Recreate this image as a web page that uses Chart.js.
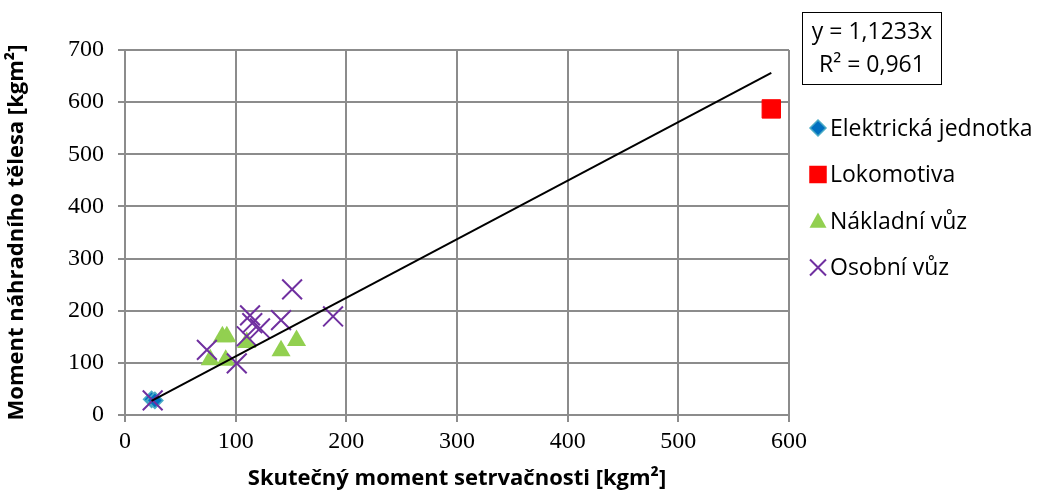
<!DOCTYPE html>
<html>
<head>
<meta charset="utf-8">
<script src="https://cdn.jsdelivr.net/npm/chart.js@4/dist/chart.umd.min.js"></script>
<style>
  html, body { margin: 0; padding: 0; background: #fff; }
  #wrap { width: 1046px; height: 492px; position: relative; }
</style>
</head>
<body>
<div id="wrap"><canvas id="momentChart"></canvas></div>
<script>
// values
const elektrX = [24, 27];
const elektrY = [30, 28];
const lokoX = [584];
const lokoY = [587];
const nakladX = [88, 92, 77, 91, 110, 141, 155];
const nakladY = [150, 150, 106, 105, 139, 123, 143];
const osobniX = [25, 74, 101, 113, 115, 122, 110, 141, 151, 188];
const osobniY = [28, 125, 99, 191, 176, 166, 151, 182, 241, 189];
const trendSlope = 1.1233;
const trendR2 = '0,961';
const trendX = [24, 584];
const xTicks = [0, 100, 200, 300, 400, 500, 600];
const yTicks = [0, 100, 200, 300, 400, 500, 600, 700];

const pts = (xs, ys) => xs.map((x, i) => ({ x: x, y: ys[i] }));

const sans = '"Open Sans", "Noto Sans", sans-serif';
const serif = '"Liberation Serif", "Times New Roman", serif';

function marker(ctx, style, x, y, s, fill, stroke) {
    ctx.save();
    ctx.beginPath();
    if (style === 'diamond') {
        ctx.moveTo(x, y - s); ctx.lineTo(x + s, y); ctx.lineTo(x, y + s); ctx.lineTo(x - s, y);
        ctx.closePath();
        ctx.fillStyle = fill; ctx.fill();
        ctx.strokeStyle = stroke; ctx.lineWidth = 1.5; ctx.stroke();
    } else if (style === 'square') {
        ctx.rect(x - s, y - s, 2 * s, 2 * s);
        ctx.fillStyle = fill; ctx.fill();
        ctx.strokeStyle = stroke; ctx.lineWidth = 1.5; ctx.stroke();
    } else if (style === 'triangle') {
        ctx.moveTo(x, y - s); ctx.lineTo(x + s, y + s * 0.8); ctx.lineTo(x - s, y + s * 0.8);
        ctx.closePath();
        ctx.fillStyle = fill; ctx.fill();
    } else {
        ctx.moveTo(x - s, y - s); ctx.lineTo(x + s, y + s);
        ctx.moveTo(x + s, y - s); ctx.lineTo(x - s, y + s);
        ctx.strokeStyle = stroke; ctx.lineWidth = 2; ctx.stroke();
    }
    ctx.restore();
}

const legendBox = {
    id: 'legendBox',
    afterDraw(chart) {
        const ctx = chart.ctx;
        const a = chart.chartArea;
        // equation box
        ctx.save();
        ctx.strokeStyle = '#000';
        ctx.lineWidth = 1;
        ctx.strokeRect(a.right + 13.5, 12.5, 139, 72);
        ctx.fillStyle = '#000';
        ctx.font = '23px ' + sans;
        ctx.textAlign = 'center';
        ctx.textBaseline = 'middle';
        const cx = a.right + 83;
        ctx.fillText('y = ' + String(trendSlope).replace('.', ',') + 'x', cx, 32);
        ctx.fillText('R² = ' + trendR2, cx, 65);
        ctx.restore();

        // series legend
        const items = chart.data.datasets.filter(d => d.legendStyle);
        items.forEach((d, i) => {
            const y = a.top + 78 + i * 46.5;
            const mx = a.right + 29;
            marker(ctx, d.legendStyle, mx, y, d.legendSize, d.backgroundColor, d.borderColor);
            ctx.save();
            ctx.fillStyle = '#000';
            ctx.font = '23px ' + sans;
            ctx.textAlign = 'left';
            ctx.textBaseline = 'middle';
            ctx.fillText(d.label, a.right + 41, y + 1);
            ctx.restore();
        });
    }
};

new Chart(document.getElementById('momentChart'), {
    type: 'scatter',
    data: {
        datasets: [
            {
                label: 'Elektrická jednotka',
                data: pts(elektrX, elektrY),
                pointStyle: 'rectRot',
                pointRadius: 8,
                backgroundColor: '#0070C0',
                borderColor: '#4BACC6',
                borderWidth: 1.5,
                legendStyle: 'diamond',
                legendSize: 8,
                order: 2
            },
            {
                label: 'Lokomotiva',
                data: pts(lokoX, lokoY),
                pointStyle: 'rect',
                pointRadius: 13,
                backgroundColor: '#FF0000',
                borderColor: '#FF0000',
                borderWidth: 1,
                legendStyle: 'square',
                legendSize: 8,
                order: 3
            },
            {
                label: 'Nákladní vůz',
                data: pts(nakladX, nakladY),
                pointStyle: 'triangle',
                pointRadius: 11,
                backgroundColor: '#92D050',
                borderColor: '#92D050',
                borderWidth: 0,
                legendStyle: 'triangle',
                legendSize: 8.5,
                order: 4
            },
            {
                label: 'Osobní vůz',
                data: pts(osobniX, osobniY),
                pointStyle: 'crossRot',
                pointRadius: 14,
                backgroundColor: '#7030A0',
                borderColor: '#7030A0',
                borderWidth: 2,
                legendStyle: 'cross',
                legendSize: 8,
                order: 1
            },
            {
                type: 'line',
                label: 'trend',
                data: trendX.map(x => ({ x: x, y: x * trendSlope })),
                borderColor: '#000',
                borderWidth: 2,
                pointRadius: 0,
                fill: false,
                order: 0
            }
        ]
    },
    options: {
        responsive: true,
        maintainAspectRatio: false,
        animation: false,
        layout: { padding: { top: 50, right: 257, left: 4, bottom: 0 } },
        plugins: {
            legend: { display: false },
            tooltip: { enabled: false }
        },
        scales: {
            x: {
                type: 'linear',
                min: 0, max: 600,
                afterFit: s => { s.height = 77; },
                afterBuildTicks: s => { s.ticks = xTicks.map(v => ({ value: v })); },
                grid: { color: '#8c8c8c', lineWidth: 2, tickLength: 7 },
                border: { color: '#8c8c8c', width: 2 },
                ticks: { color: '#000', font: { family: serif, size: 24 }, padding: 5 },
                title: {
                    display: true,
                    text: 'Skutečný moment setrvačnosti [kgm²]',
                    color: '#000',
                    font: { family: sans, size: 22, weight: 'bold' },
                    padding: { top: 0, bottom: 0 }
                }
            },
            y: {
                type: 'linear',
                min: 0, max: 700,
                afterFit: s => { s.width = 121; },
                afterBuildTicks: s => { s.ticks = yTicks.map(v => ({ value: v })); },
                grid: { color: '#8c8c8c', lineWidth: 2, tickLength: 7 },
                border: { color: '#8c8c8c', width: 2 },
                ticks: { color: '#000', font: { family: serif, size: 24 }, padding: 14 },
                title: {
                    display: true,
                    text: 'Moment náhradního tělesa [kgm²]',
                    color: '#000',
                    font: { family: sans, size: 22, weight: 'bold' },
                    padding: { top: 0, bottom: 0 }
                }
            }
        }
    },
    plugins: [legendBox]
});
</script>
</body>
</html>
